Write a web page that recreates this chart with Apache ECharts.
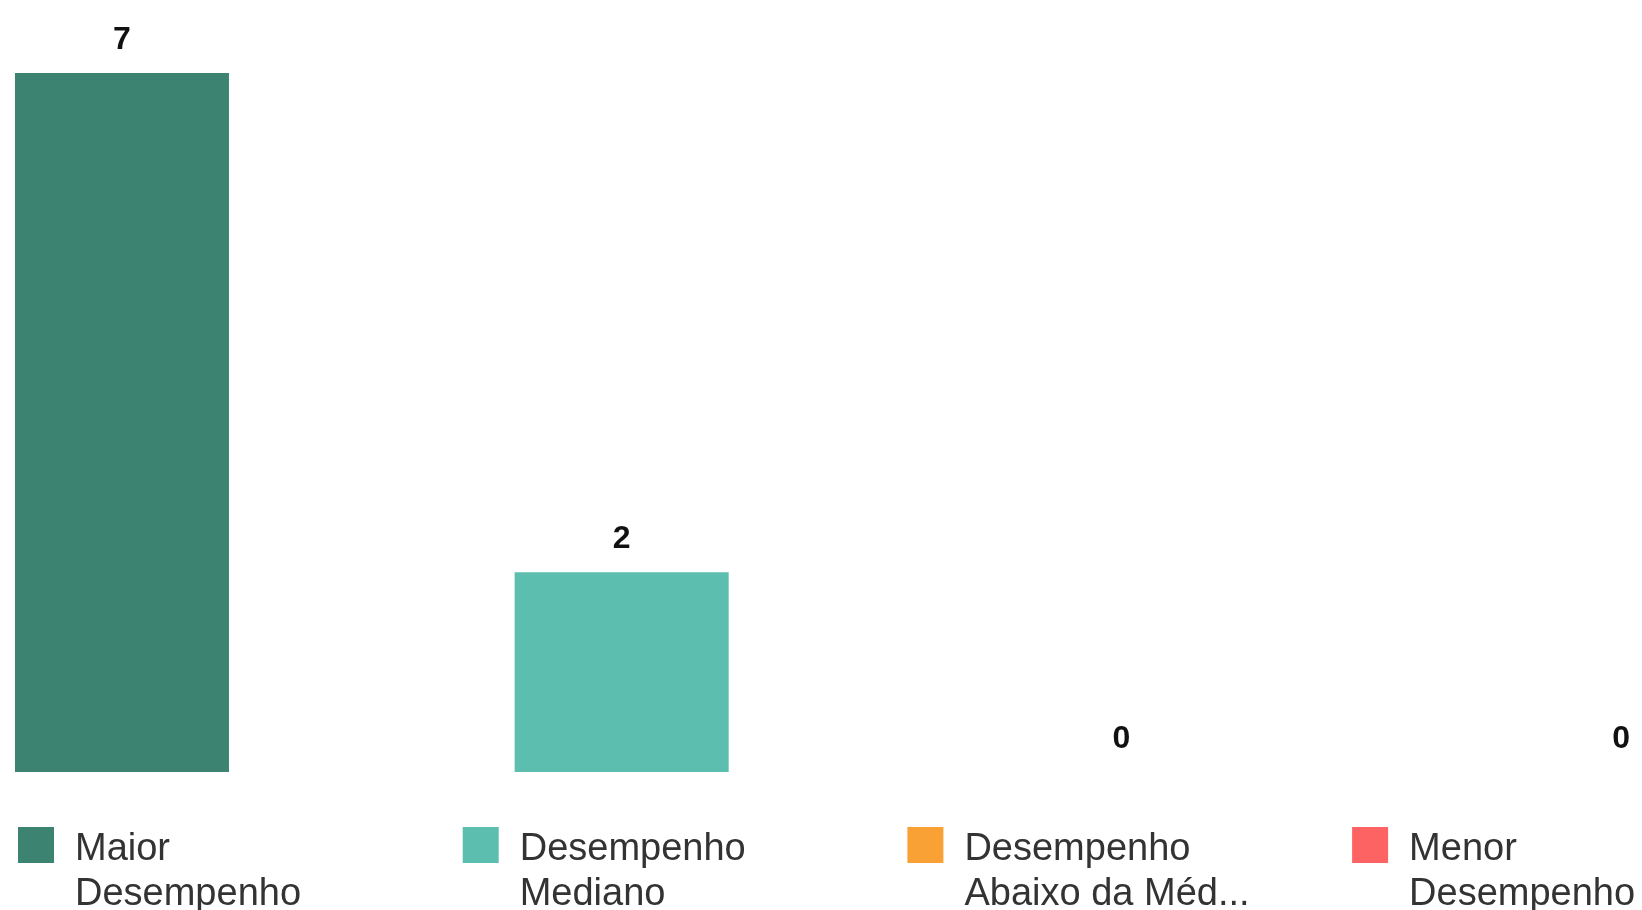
<!DOCTYPE html>
<html>
<head>
<meta charset="utf-8">
<script src="https://cdn.jsdelivr.net/npm/echarts@6/dist/echarts.min.js"></script>
<style>
html,body{margin:0;padding:0;background:#fff;}
#chart{width:1642px;height:910px;}
</style>
</head>
<body>
<div id="chart"></div>
<script>
// ---- data ----
var categories = ['Maior Desempenho', 'Desempenho Mediano', 'Desempenho Abaixo da Média', 'Menor Desempenho'];
var legendLabels = ['Maior\nDesempenho', 'Desempenho\nMediano', 'Desempenho\nAbaixo da Méd...', 'Menor\nDesempenho'];
var values = [7, 2, 0, 0];
var colors = ['#3c8372', '#5bbeae', '#f9a134', '#fe6363'];

var chart = echarts.init(document.getElementById('chart'), null, {renderer: 'canvas'});

// one series per category, positioned at the category index on a value x-axis
var series = categories.map(function (name, i) {
  return {
    name: name,
    type: 'bar',
    stack: 'all',
    barWidth: 214,
    itemStyle: {color: colors[i]},
    label: {
      show: true,
      position: 'top',
      distance: 17,
      fontFamily: 'Liberation Sans, Arial, sans-serif',
      fontSize: 32,
      fontWeight: 'bold',
      color: '#111',
      formatter: function (p) { return p.value[1]; }
    },
    data: [[i, values[i]]]
  };
});

var legendFont = {
  fontFamily: 'Liberation Sans, Arial, sans-serif',
  fontSize: 38,
  lineHeight: 45,
  color: '#333'
};

var legends = categories.map(function (name, i) {
  return {
    data: [name],
    left: 18 + i * 444.7,
    top: 781,
    padding: 0,
    itemWidth: 36,
    itemHeight: 36,
    icon: 'rect',
    selectedMode: false,
    formatter: function (n) {
      var lines = legendLabels[categories.indexOf(n)].split('\n');
      return '{s| }\n' + lines.map(function (l) { return '{t|' + l + '}'; }).join('\n');
    },
    textStyle: {
      fontFamily: legendFont.fontFamily,
      fontSize: 38,
      color: '#333',
      padding: [0, 0, 0, 16],
      rich: {
        s: {fontSize: 38, lineHeight: 55, fontFamily: legendFont.fontFamily},
        t: legendFont
      }
    }
  };
});

chart.setOption({
  animation: false,
  backgroundColor: '#fff',
  grid: {left: 0, right: 0, top: 73, height: 699, containLabel: false},
  legend: legends,
  xAxis: {
    type: 'value',
    min: -0.2441,
    max: 3.0419,
    show: false,
    splitLine: {show: false}
  },
  yAxis: {
    type: 'value',
    min: 0,
    max: 7,
    show: false,
    splitLine: {show: false}
  },
  series: series
});
</script>
</body>
</html>
